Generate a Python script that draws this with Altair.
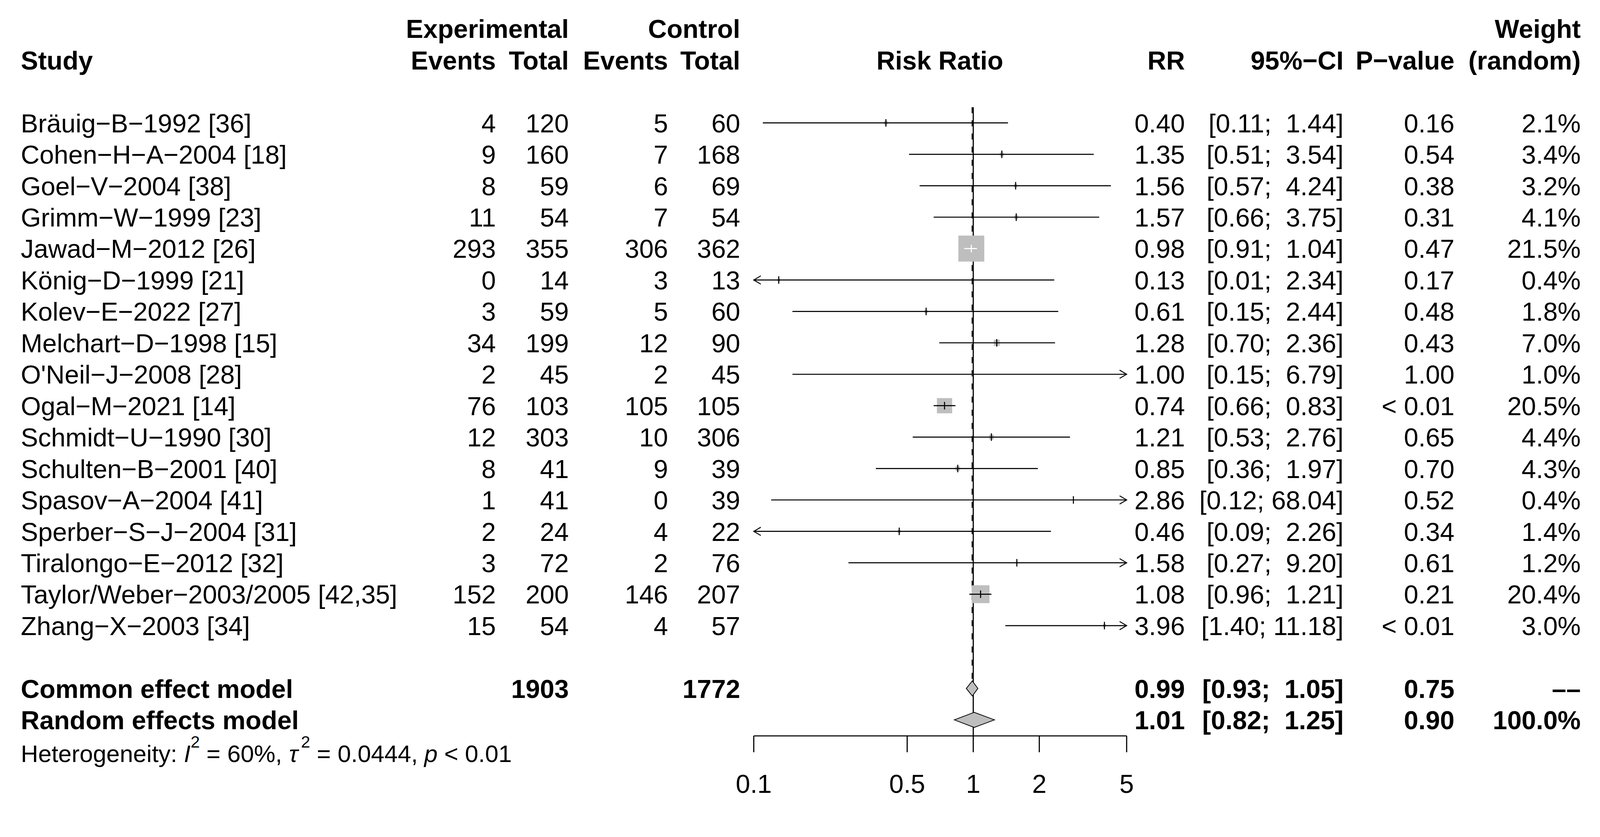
import math
import altair as alt
import pandas as pd

# ---------------- data ----------------
studies = [
    "Bräuig−B−1992 [36]", "Cohen−H−A−2004 [18]", "Goel−V−2004 [38]", "Grimm−W−1999 [23]",
    "Jawad−M−2012 [26]", "König−D−1999 [21]", "Kolev−E−2022 [27]", "Melchart−D−1998 [15]",
    "O'Neil−J−2008 [28]", "Ogal−M−2021 [14]", "Schmidt−U−1990 [30]", "Schulten−B−2001 [40]",
    "Spasov−A−2004 [41]", "Sperber−S−J−2004 [31]", "Tiralongo−E−2012 [32]",
    "Taylor/Weber−2003/2005 [42,35]", "Zhang−X−2003 [34]",
]
exp_events = [4, 9, 8, 11, 293, 0, 3, 34, 2, 76, 12, 8, 1, 2, 3, 152, 15]
exp_total = [120, 160, 59, 54, 355, 14, 59, 199, 45, 103, 303, 41, 41, 24, 72, 200, 54]
ctrl_events = [5, 7, 6, 7, 306, 3, 5, 12, 2, 105, 10, 9, 0, 4, 2, 146, 4]
ctrl_total = [60, 168, 69, 54, 362, 13, 60, 90, 45, 105, 306, 39, 39, 22, 76, 207, 57]
rr = [0.40, 1.35, 1.56, 1.57, 0.98, 0.13, 0.61, 1.28, 1.00, 0.74, 1.21, 0.85, 2.86, 0.46, 1.58, 1.08, 3.96]
ci_lower = [0.11, 0.51, 0.57, 0.66, 0.91, 0.01, 0.15, 0.70, 0.15, 0.66, 0.53, 0.36, 0.12, 0.09, 0.27, 0.96, 1.40]
ci_upper = [1.44, 3.54, 4.24, 3.75, 1.04, 2.34, 2.44, 2.36, 6.79, 0.83, 2.76, 1.97, 68.04, 2.26, 9.20, 1.21, 11.18]
p_values = ["0.16", "0.54", "0.38", "0.31", "0.47", "0.17", "0.48", "0.43", "1.00", "< 0.01",
            "0.65", "0.70", "0.52", "0.34", "0.61", "0.21", "< 0.01"]
weights = ["2.1%", "3.4%", "3.2%", "4.1%", "21.5%", "0.4%", "1.8%", "7.0%", "1.0%", "20.5%",
           "4.4%", "4.3%", "0.4%", "1.4%", "1.2%", "20.4%", "3.0%"]

model_labels = ["Common effect model", "Random effects model"]
model_exp_total = ["1903", ""]
model_ctrl_total = ["1772", ""]
model_rr = [0.99, 1.01]
model_lower = [0.93, 0.82]
model_upper = [1.05, 1.25]
model_p = ["0.75", "0.90"]
model_weight = ["––", "100.0%"]

x_ticks = [0.1, 0.5, 1, 2, 5]
x_tick_labels = ["0.1", "0.5", "1", "2", "5"]
het_I2 = "60%"
het_tau2 = "0.0444"
het_p = "< 0.01"

# ---------------- layout / style ----------------
M = 8                      # page margin
SHIFT = -42                # measured vertical page offset correction
FONT = "Liberation Sans, Arial, Helvetica, sans-serif"
FS = 69
FS_HET = 64
DY = round(0.358 * FS)     # alphabetic baseline below row centre
X_LO, X_HI = 0.1, 5
XR = [2005 - M, 2997 - M]
ROW0, ROWSTEP = 328 - M + SHIFT, 83.6
YR = [ROW0, ROW0 + ROWSTEP * 20]
DEC_PX = (XR[1] - XR[0]) / math.log10(X_HI / X_LO)
SQ_MAX = 69                # side of the largest square in px
GRAY = "#BEBEBE"
LW = 2.8

ROW_COMMON, ROW_RANDOM = 18, 19
ROW_HET = 20.07
ROW_TOP = -0.5
AXIS_ROW = 19.51
TICK_END_ROW = 20.03
LABEL_ROW = 21.03
DIAMOND_H = 0.24

COL = dict(study=55 - M, ee=1319 - M, et=1513 - M, ce=1777 - M, ct=1969 - M,
           rr_head=2500 - M, rr=3152 - M, ci=3574 - M, p=3869 - M, w=4205 - M)

xs = alt.Scale(type="log", domain=[X_LO, X_HI], range=XR, nice=False, zero=False)
ys = alt.Scale(type="linear", domain=[0, 20], range=YR, nice=False, zero=False)


def mh_weight(a, n1, c, n2):
    b, d = n1 - a, n2 - c
    if min(a, b, c, d) == 0:
        a, c, n1, n2 = a + 0.5, c + 0.5, n1 + 1, n2 + 1
    return c * n1 / (n1 + n2)


def fmt_ci(lo, hi):
    hs = f"{hi:.2f}"
    pad = "\u00a0" * (1 + 5 - len(hs))
    return f"[{lo:.2f};{pad}{hs}]"


w_mh = [mh_weight(a, n1, c, n2) for a, n1, c, n2 in zip(exp_events, exp_total, ctrl_events, ctrl_total)]
wmax = max(w_mh)

rows = []
for i, s in enumerate(studies):
    side = SQ_MAX * math.sqrt(w_mh[i] / wmax)
    inside = math.log10(ci_upper[i] / ci_lower[i]) * DEC_PX < side
    rows.append(dict(
        row=i, study=s, ee=str(exp_events[i]), et=str(exp_total[i]),
        ce=str(ctrl_events[i]), ct=str(ctrl_total[i]),
        rr=rr[i], rr_s=f"{rr[i]:.2f}", ci_s=fmt_ci(ci_lower[i], ci_upper[i]),
        p=p_values[i], w=weights[i], w_mh=w_mh[i],
        lo_c=max(ci_lower[i], X_LO), hi_c=min(ci_upper[i], X_HI),
        arrow_left=bool(ci_lower[i] < X_LO), arrow_right=bool(ci_upper[i] > X_HI),
        inside=bool(inside), col="white" if inside else "black",
    ))
df = pd.DataFrame(rows)

mrows = []
for j, lab in enumerate(model_labels):
    mrows.append(dict(row=[ROW_COMMON, ROW_RANDOM][j], label=lab, et=model_exp_total[j],
                      ct=model_ctrl_total[j], rr_s=f"{model_rr[j]:.2f}",
                      ci_s=fmt_ci(model_lower[j], model_upper[j]), p=model_p[j], w=model_weight[j]))
dfm = pd.DataFrame(mrows)

drows = []
for j, lab in enumerate(model_labels):
    r = [ROW_COMMON, ROW_RANDOM][j]
    drows += [dict(model=lab, x=model_lower[j], ya=r, yb=r),
              dict(model=lab, x=model_rr[j], ya=r - DIAMOND_H, yb=r + DIAMOND_H),
              dict(model=lab, x=model_upper[j], ya=r, yb=r)]
dfd = pd.DataFrame(drows)

Y = alt.Y("row:Q", scale=ys, axis=None)


def col_text(data, field, x, align, bold=False):
    return alt.Chart(data).mark_text(
        align=align, baseline="alphabetic", dy=DY, font=FONT, fontSize=FS,
        fontWeight="bold" if bold else "normal", color="black"
    ).encode(x=alt.value(x), y=Y, text=f"{field}:N")


def label(text, row, x, align, bold=True, size=FS, italic=False, dy=None):
    d = pd.DataFrame({"t": [text], "row": [row]})
    return alt.Chart(d).mark_text(
        align=align, baseline="alphabetic", dy=DY if dy is None else dy, font=FONT,
        fontSize=size, fontWeight="bold" if bold else "normal",
        fontStyle="italic" if italic else "normal", color="black"
    ).encode(x=alt.value(x), y=Y, text="t:N")


layers = []

# headers
layers += [
    label("Experimental", -3, COL["et"], "right"),
    label("Control", -3, COL["ct"], "right"),
    label("Weight", -3, COL["w"], "right"),
    label("Study", -2, COL["study"], "left"),
    label("Events", -2, COL["ee"], "right"),
    label("Total", -2, COL["et"], "right"),
    label("Events", -2, COL["ce"], "right"),
    label("Total", -2, COL["ct"], "right"),
    label("Risk Ratio", -2, COL["rr_head"], "center"),
    label("RR", -2, COL["rr"], "right"),
    label("95%−CI", -2, COL["ci"], "right"),
    label("P−value", -2, COL["p"], "right"),
    label("(random)", -2, COL["w"], "right"),
]

# study columns
layers += [
    col_text(df, "study", COL["study"], "left"),
    col_text(df, "ee", COL["ee"], "right"),
    col_text(df, "et", COL["et"], "right"),
    col_text(df, "ce", COL["ce"], "right"),
    col_text(df, "ct", COL["ct"], "right"),
    col_text(df, "rr_s", COL["rr"], "right"),
    col_text(df, "ci_s", COL["ci"], "right"),
    col_text(df, "p", COL["p"], "right"),
    col_text(df, "w", COL["w"], "right"),
]

# model rows
layers += [
    col_text(dfm, "label", COL["study"], "left", bold=True),
    col_text(dfm, "et", COL["et"], "right", bold=True),
    col_text(dfm, "ct", COL["ct"], "right", bold=True),
    col_text(dfm, "rr_s", COL["rr"], "right", bold=True),
    col_text(dfm, "ci_s", COL["ci"], "right", bold=True),
    col_text(dfm, "p", COL["p"], "right", bold=True),
    col_text(dfm, "w", COL["w"], "right", bold=True),
]

# reference line at 1 and dashed common-effect line
ref = pd.DataFrame({"x": [1.0], "row": [ROW_TOP], "row2": [AXIS_ROW]})
layers.append(alt.Chart(ref).mark_rule(color="black", strokeWidth=3).encode(
    x=alt.X("x:Q", scale=xs, axis=None), y=Y, y2="row2:Q"))
com = pd.DataFrame({"x": [model_rr[0]], "row": [ROW_TOP], "row2": [ROW_COMMON - DIAMOND_H]})
layers.append(alt.Chart(com).mark_rule(color="black", strokeWidth=3.5, strokeDash=[16, 19]).encode(
    x=alt.X("x:Q", scale=xs, axis=None), y=Y, y2="row2:Q"))

base = alt.Chart(df)
# squares (size by common-effect weight)
layers.append(base.mark_point(shape="square", filled=True, opacity=1, color=GRAY, strokeWidth=0).encode(
    x=alt.X("rr:Q", scale=xs, axis=None), y=Y,
    size=alt.Size("w_mh:Q", scale=alt.Scale(domain=[0, wmax], range=[0, SQ_MAX ** 2]), legend=None)))
# confidence intervals drawn over the squares (white where the CI fits inside the square)
layers.append(base.mark_rule(strokeWidth=LW).encode(
    x=alt.X("lo_c:Q", scale=xs, axis=None), x2="hi_c:Q", y=Y, color=alt.Color("col:N", scale=None)))
# estimate ticks
layers.append(base.mark_point(shape="M0,-1L0,1", filled=False, size=400, strokeWidth=2.8, opacity=1).encode(
    x=alt.X("rr:Q", scale=xs, axis=None), y=Y, color=alt.Color("col:N", scale=None)))
# arrows
layers.append(base.transform_filter("datum.arrow_left").mark_point(
    shape="M1.7,-1L0,0L1.7,1", filled=False, size=484, strokeWidth=2.5, color="black", opacity=1).encode(
    x=alt.X("lo_c:Q", scale=xs, axis=None), y=Y))
layers.append(base.transform_filter("datum.arrow_right").mark_point(
    shape="M-1.7,-1L0,0L-1.7,1", filled=False, size=484, strokeWidth=2.5, color="black", opacity=1).encode(
    x=alt.X("hi_c:Q", scale=xs, axis=None), y=Y))

# diamonds
layers.append(alt.Chart(dfd).mark_area(orient="vertical", fill=GRAY, stroke="black", strokeWidth=2,
                                       opacity=1, fillOpacity=1).encode(
    x=alt.X("x:Q", scale=xs, axis=None), y=alt.Y("ya:Q", scale=ys, axis=None), y2="yb:Q",
    detail="model:N"))

# x axis drawn from the scale
axl = pd.DataFrame({"x": [X_LO], "x2": [X_HI], "row": [AXIS_ROW]})
layers.append(alt.Chart(axl).mark_rule(color="black", strokeWidth=3).encode(
    x=alt.X("x:Q", scale=xs, axis=None), x2="x2:Q", y=Y))
tk = pd.DataFrame({"x": x_ticks, "lab": x_tick_labels, "row": [AXIS_ROW] * len(x_ticks),
                   "row2": [TICK_END_ROW] * len(x_ticks), "lrow": [LABEL_ROW] * len(x_ticks)})
layers.append(alt.Chart(tk).mark_rule(color="black", strokeWidth=3).encode(
    x=alt.X("x:Q", scale=xs, axis=None), y=Y, y2="row2:Q"))
layers.append(alt.Chart(tk).mark_text(align="center", baseline="alphabetic", dy=DY, font=FONT,
                                      fontSize=FS, color="black").encode(
    x=alt.X("x:Q", scale=xs, axis=None), y=alt.Y("lrow:Q", scale=ys, axis=None), text="lab:N"))

# heterogeneity line with italic symbols and superscripts
x0 = COL["study"]
DYH = round(0.358 * FS_HET)
SUP = 44
SUP_DY = DYH - 39
em = FS_HET
pieces = [
    ("Heterogeneity:", 0, False, FS_HET, DYH),
    ("I", 6.781 * em, True, FS_HET, DYH),
    ("2", 7.059 * em, False, SUP, SUP_DY),
    ("= " + het_I2 + ",", 7.059 * em + 0.556 * SUP + 0.278 * em, False, FS_HET, DYH),
    ("τ", 11.146 * em, True, FS_HET, DYH),
    ("2", 11.646 * em, False, SUP, SUP_DY),
    ("= " + het_tau2 + ",", 11.646 * em + 0.556 * SUP + 0.278 * em, False, FS_HET, DYH),
    ("p", 16.769 * em, True, FS_HET, DYH),
    (het_p, 17.603 * em, False, FS_HET, DYH),
]
for t, off, it, sz, d in pieces:
    layers.append(label(t, ROW_HET, x0 + off, "left", bold=False, size=sz, italic=it, dy=d))

chart = alt.layer(*layers).properties(
    width=4240, height=2075, padding=0, autosize="none", background="white"
).configure_view(stroke=None)

chart.save("out.html", embed_options={"renderer": "svg", "actions": False})
